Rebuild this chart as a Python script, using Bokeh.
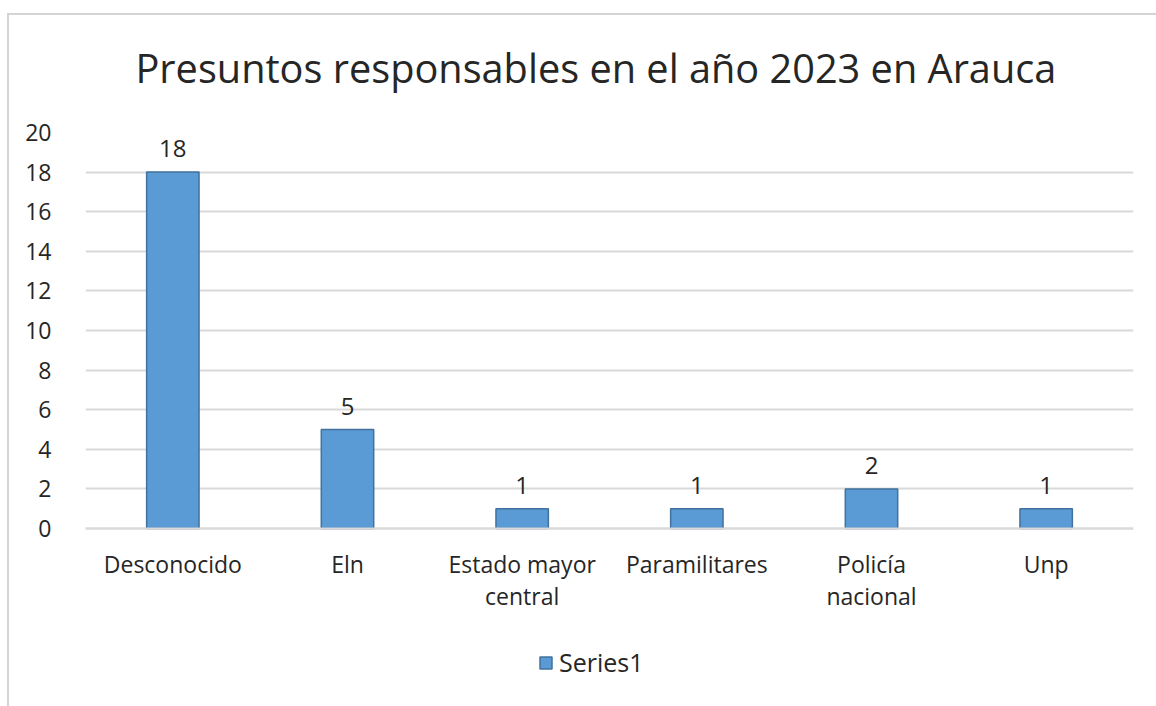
from bokeh.plotting import figure
from bokeh.models import ColumnDataSource, Legend, LegendItem, FixedTicker
from bokeh.core.properties import value
from bokeh.embed import file_html
from bokeh.resources import INLINE

categories = ["Desconocido", "Eln", "Estado mayor\ncentral", "Paramilitares", "Policía\nnacional", "Unp"]
values = [18, 5, 1, 1, 2, 1]
labels = [str(v) for v in values]
y_ticks = [0, 2, 4, 6, 8, 10, 12, 14, 16, 18, 20]
series_name = "Series1"
title_text = "Presuntos responsables en el año 2023 en Arauca"

FONT = "Open Sans"
BORDER = "#d4d4d4"

# layout (pixels)
FIG_W, FIG_H = 1149, 706
FRAME_TOP, FRAME_LEFT, FRAME_RIGHT, FRAME_BOTTOM = 132, 78, 23, 8
Y_MAX = 20
ZERO_TO_FRAME_BOTTOM = 170  # px between value 0 and bottom of frame
frame_h = FIG_H - FRAME_TOP - FRAME_BOTTOM
px_per_unit = (frame_h - ZERO_TO_FRAME_BOTTOM) / Y_MAX
y_start = -ZERO_TO_FRAME_BOTTOM / px_per_unit

src = ColumnDataSource(dict(cat=categories, val=values, lab=labels))

chart_border = {
    "background-color": "white",
    "background-image": f"linear-gradient({BORDER},{BORDER}), linear-gradient({BORDER},{BORDER})",
    "background-size": "100% 2px, 2px 100%",
    "background-position": "0 13px, 0 13px",
    "background-repeat": "no-repeat",
}

p = figure(x_range=categories, y_range=(y_start, Y_MAX), width=FIG_W, height=FIG_H,
           output_backend="svg", toolbar_location=None, margin=(0, 0, 0, 7),
           min_border_left=FRAME_LEFT, min_border_right=FRAME_RIGHT,
           min_border_top=FRAME_TOP, min_border_bottom=FRAME_BOTTOM,
           styles=chart_border)

p.title.text = title_text
p.title.text_font = FONT
p.title.text_font_size = "39.7px"
p.title.text_font_style = "normal"
p.title.text_color = "#262626"
p.title.align = "left"
p.title.offset = 50
p.title.standoff = 75

p.outline_line_color = None
p.background_fill_color = "white"
p.border_fill_alpha = 0

r = p.vbar(x="cat", top="val", width=0.3, source=src,
           fill_color="#5b9bd5", line_color="#41719c", line_width=1.5)

p.text(x="cat", y="val", text="lab", source=src, text_align="center",
       text_baseline="bottom", y_offset=-15, text_font=value(FONT),
       text_font_size="24px", text_color="#262626")

p.xgrid.grid_line_color = None
p.ygrid.grid_line_color = "#d9d9d9"
p.ygrid.grid_line_width = 2
p.yaxis.ticker = FixedTicker(ticks=y_ticks)

p.yaxis.axis_line_color = None
p.yaxis.major_tick_line_color = None
p.yaxis.minor_tick_line_color = None
p.yaxis.major_label_text_font = FONT
p.yaxis.major_label_text_font_size = "23px"
p.yaxis.major_label_text_color = "#262626"
p.yaxis.major_label_standoff = 28

p.xaxis.fixed_location = 0
p.xaxis.axis_line_color = "#d9d9d9"
p.xaxis.axis_line_width = 2
p.xaxis.major_tick_line_color = None
p.xaxis.minor_tick_line_color = None
p.xaxis.major_label_text_font = FONT
p.xaxis.major_label_text_font_size = "23px"
p.xaxis.major_label_text_line_height = 1.0
p.xaxis.major_label_text_color = "#262626"
p.xaxis.major_label_standoff = 13

legend = Legend(items=[LegendItem(label=series_name, renderers=[r])],
                location=(453, 19), orientation="horizontal",
                label_text_font=FONT, label_text_font_size="25px",
                label_text_color="#262626", glyph_width=15, glyph_height=15,
                border_line_color=None, background_fill_alpha=0,
                margin=0, padding=5, label_standoff=6)
p.add_layout(legend, "center")

open("out.html", "w").write(file_html(p, INLINE))
